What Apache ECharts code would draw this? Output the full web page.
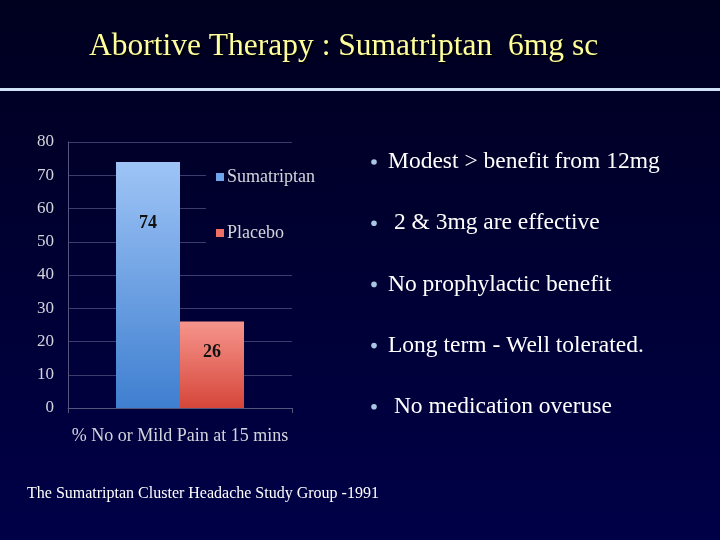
<!DOCTYPE html>
<html>
<head>
<meta charset="utf-8">
<script src="https://cdn.jsdelivr.net/npm/echarts@6/dist/echarts.min.js"></script>
<style>
  html, body { margin: 0; padding: 0; background: #000022; }
  #chart { width: 720px; height: 540px; }
</style>
</head>
<body>
<div id="chart"></div>
<script>
// data
const categories = ['% No or Mild Pain at 15 mins'];
const sumatriptan = [74];
const placebo = [26];
const yTicks = { min: 0, max: 80, interval: 10 };
const bullets = [
  'Modest > benefit from 12mg',
  ' 2 & 3mg are effective',
  'No prophylactic benefit',
  'Long term - Well tolerated.',
  ' No medication overuse'
];

const serif = '"Liberation Serif", "DejaVu Serif", serif';
const chart = echarts.init(document.getElementById('chart'));

const bulletGraphics = [];
bullets.forEach(function (t, i) {
  const y = 162 + i * 61.2;
  bulletGraphics.push({
    type: 'circle',
    shape: { cx: 374, cy: y, r: 2.8 },
    style: { fill: '#a9c6e2' }
  });
  bulletGraphics.push({
    type: 'text',
    left: 388,
    top: y - 12,
    style: { text: t, fill: '#ffffff', font: '23.5px ' + serif }
  });
});

const option = {
  backgroundColor: {
    type: 'linear', x: 0, y: 0, x2: 0, y2: 1,
    colorStops: [
      { offset: 0, color: '#00001f' },
      { offset: 1, color: '#000048' }
    ]
  },
  animation: false,
  title: {
    text: 'Abortive Therapy : Sumatriptan  6mg sc',
    left: 84,
    top: 26,
    textStyle: {
      color: '#ffff9c',
      fontFamily: serif,
      fontWeight: 'normal',
      fontSize: 31.5,
      textShadowColor: '#000000',
      textShadowOffsetX: 2,
      textShadowOffsetY: 2,
      textShadowBlur: 1
    }
  },
  grid: { left: 68, right: 428, top: 142, bottom: 132 },
  legend: {
    orient: 'vertical',
    left: 206,
    top: 164,
    padding: [4, 12, 8, 10],
    itemGap: 38,
    itemWidth: 8,
    itemHeight: 8,
    icon: 'rect',
    backgroundColor: {
      type: 'linear', x: 0, y: 0, x2: 0, y2: 1,
      colorStops: [
        { offset: 0, color: 'rgb(0,0,43)' },
        { offset: 1, color: 'rgb(0,0,50)' }
      ]
    },
    textStyle: { color: '#d4d4dc', fontFamily: serif, fontSize: 18, padding: [0, 0, 0, -2] },
    data: [
      { name: 'Sumatriptan', itemStyle: { color: '#6fa6ea' } },
      { name: 'Placebo', itemStyle: { color: '#ec7064' } }
    ]
  },
  xAxis: {
    type: 'category',
    data: categories,
    axisLine: { lineStyle: { color: '#55557e' } },
    axisTick: { show: true, length: 5, lineStyle: { color: '#55557e' } },
    axisLabel: { color: '#d4d4dc', fontFamily: serif, fontSize: 18, margin: 19 }
  },
  yAxis: {
    type: 'value',
    min: yTicks.min,
    max: yTicks.max,
    interval: yTicks.interval,
    axisLine: { show: true, lineStyle: { color: '#55557e' } },
    axisTick: { show: false },
    axisLabel: { color: '#d4d4dc', fontFamily: serif, fontSize: 17, margin: 14, padding: [3, 0, 0, 0] },
    splitLine: { lineStyle: { color: '#3c3c6c' } }
  },
  series: [
    {
      name: 'Sumatriptan',
      type: 'bar',
      data: sumatriptan,
      barWidth: 64,
      barGap: '0%',
      itemStyle: {
        color: {
          type: 'linear', x: 0, y: 0, x2: 0, y2: 1,
          colorStops: [
            { offset: 0, color: '#9ec4f6' },
            { offset: 1, color: '#3f7fd0' }
          ]
        }
      },
      label: {
        show: true, position: 'insideTop', distance: 52,
        color: '#111111', fontFamily: serif, fontSize: 18, fontWeight: 'bold'
      }
    },
    {
      name: 'Placebo',
      type: 'bar',
      data: placebo,
      barWidth: 64,
      itemStyle: {
        color: {
          type: 'linear', x: 0, y: 0, x2: 0, y2: 1,
          colorStops: [
            { offset: 0, color: '#f6958c' },
            { offset: 1, color: '#d6463a' }
          ]
        }
      },
      label: {
        show: true, position: 'insideTop', distance: 22,
        color: '#111111', fontFamily: serif, fontSize: 18, fontWeight: 'bold'
      }
    }
  ],
  graphic: [
    {
      type: 'rect',
      shape: { x: 0, y: 88, width: 720, height: 3 },
      style: { fill: '#cfe2f8' }
    },
    {
      type: 'text',
      left: 27,
      top: 486,
      style: {
        text: 'The Sumatriptan Cluster Headache Study Group -1991',
        fill: '#ffffff',
        font: '16px ' + serif
      }
    }
  ].concat(bulletGraphics)
};

chart.setOption(option);
</script>
</body>
</html>
